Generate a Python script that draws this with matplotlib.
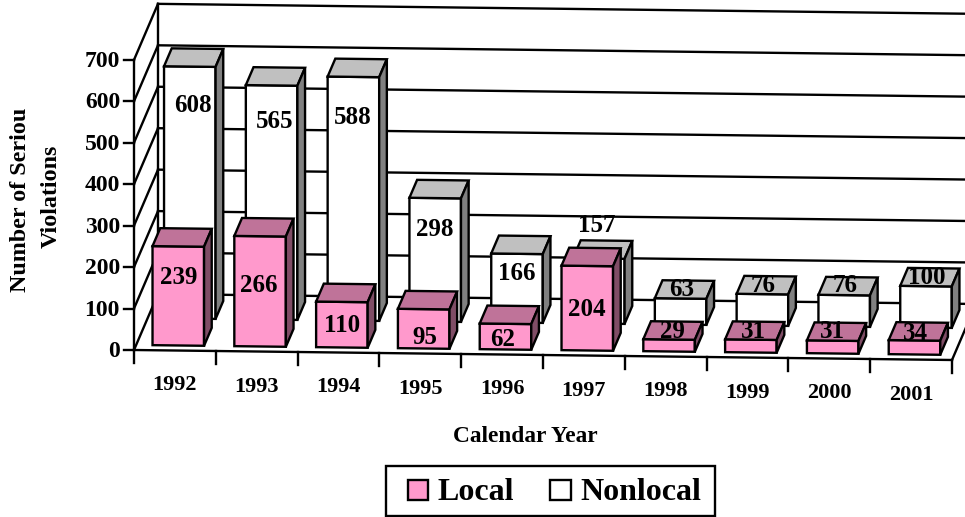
import matplotlib
matplotlib.use('Agg')
import matplotlib.pyplot as plt
from matplotlib.patches import Polygon, Rectangle

years = ['1992', '1993', '1994', '1995', '1996', '1997', '1998', '1999', '2000', '2001']
local = [239, 266, 110, 95, 62, 204, 29, 31, 31, 34]
nonlocal_vals = [608, 565, 588, 298, 166, 157, 63, 76, 76, 100]
y_ticks = [0, 100, 200, 300, 400, 500, 600, 700]

# value labels were moved by hand in the original, so keep where they sit
local_lbl_x = [179, 259, 342, 425, 503, 587, 672, 753, 832, 915]
local_lbl_y = [277, 285, 325, 337, 339, 308, 330, 330, 331, 333]
nonlocal_lbl_x = [193, 275, 353, 435, 517, 597, 682, 763, 845, 927]
nonlocal_lbl_y = [105, 120, 117, 228, 272, 225, 289, 285, 285, 276]

plt.rcParams['font.family'] = ['Liberation Serif', 'DejaVu Serif']
plt.rcParams['font.weight'] = 'bold'

LW = 1.7
PINK = ('#FF99CC', '#BF7399', '#804D66')
WHITE = ('#FFFFFF', '#C0C0C0', '#808080')


def proj(i, v, d):
    # category position, value, depth (0 front, 1 back) to picture pixels
    x = 134 + 81.8 * i + 24 * d
    y = 350 + 1.0 * i - 56 * d - 0.4145 * v
    return x, y


def line(ax, p0, p1, lw=LW):
    ax.plot([p0[0], p1[0]], [p0[1], p1[1]], color='black', lw=lw,
            solid_capstyle='projecting', zorder=2)


def bar3d(ax, i, val, d0, colors, z):
    w0, w1 = i + 0.2, i + 0.83
    d1 = d0 + 0.32
    front = [proj(w0, 0, d0), proj(w1, 0, d0), proj(w1, val, d0), proj(w0, val, d0)]
    top = [proj(w0, val, d0), proj(w1, val, d0), proj(w1, val, d1), proj(w0, val, d1)]
    side = [proj(w1, 0, d0), proj(w1, 0, d1), proj(w1, val, d1), proj(w1, val, d0)]
    for pts, c in zip([front, top, side], colors):
        ax.add_patch(Polygon(pts, closed=True, fc=c, ec='black', lw=LW,
                             joinstyle='miter', zorder=z))


fig = plt.figure(figsize=(9.65, 5.17), dpi=100)
ax = fig.add_axes([0, 0, 1, 1])
ax.set_xlim(0, 965)
ax.set_ylim(517, 0)
ax.axis('off')

# walls and grid
n = len(years)
for t in y_ticks:
    line(ax, proj(0, t, 0), proj(0, t, 1))
    line(ax, proj(0, t, 1), proj(n + 0.5, t, 1))
    ax.plot([124, 134], [proj(0, t, 0)[1]] * 2, color='black', lw=LW, zorder=2)
    ax.text(120, proj(0, t, 0)[1] + 1.5, str(t), ha='right', va='center', fontsize=17)
line(ax, proj(0, 0, 0), proj(0, 700, 0))
line(ax, proj(0, 0, 1), proj(0, 700, 1))
line(ax, proj(n, 0, 0), proj(n, 0, 1))

# floor front edge and category ticks
line(ax, proj(0, 0, 0), proj(n, 0, 0))
for i in range(n + 1):
    x, y = proj(i, 0, 0)
    ax.plot([x, x], [y, y + 13], color='black', lw=LW, zorder=2)
for i, yr in enumerate(years):
    x, y = proj(i + 0.5, 0, 0)
    ax.text(x, y + 35, yr, ha='center', va='center', fontsize=16)

for i, val in enumerate(nonlocal_vals):
    bar3d(ax, i, val, 0.57, WHITE, 3)
for i, val in enumerate(local):
    bar3d(ax, i, val, 0.09, PINK, 4)

for xs, ys, vals in [(local_lbl_x, local_lbl_y, local),
                     (nonlocal_lbl_x, nonlocal_lbl_y, nonlocal_vals)]:
    for x, y, val in zip(xs, ys, vals):
        ax.text(x, y + 1, str(val), ha='center', va='center', fontsize=18, zorder=6)

ax.text(525, 436, 'Calendar Year', ha='center', va='center', fontsize=16.8)
ax.text(20.5, 199.5, 'Number of Seriou', rotation=90, ha='center', va='center', fontsize=17.3)
ax.text(51, 196, 'Violations', rotation=90, ha='center', va='center', fontsize=17.3)

# legend
ax.add_patch(Rectangle((386, 466), 329, 50, fc='white', ec='black', lw=LW, zorder=5))
ax.add_patch(Rectangle((408, 480), 20, 20, fc=PINK[0], ec='black', lw=LW, zorder=6))
ax.add_patch(Rectangle((550, 480), 21, 20, fc='white', ec='black', lw=LW, zorder=6))
ax.text(437, 500, 'Local', ha='left', va='baseline', fontsize=23, zorder=6)
ax.text(580, 500, 'Nonlocal', ha='left', va='baseline', fontsize=23, zorder=6)

fig.savefig('out.png', dpi=100)
